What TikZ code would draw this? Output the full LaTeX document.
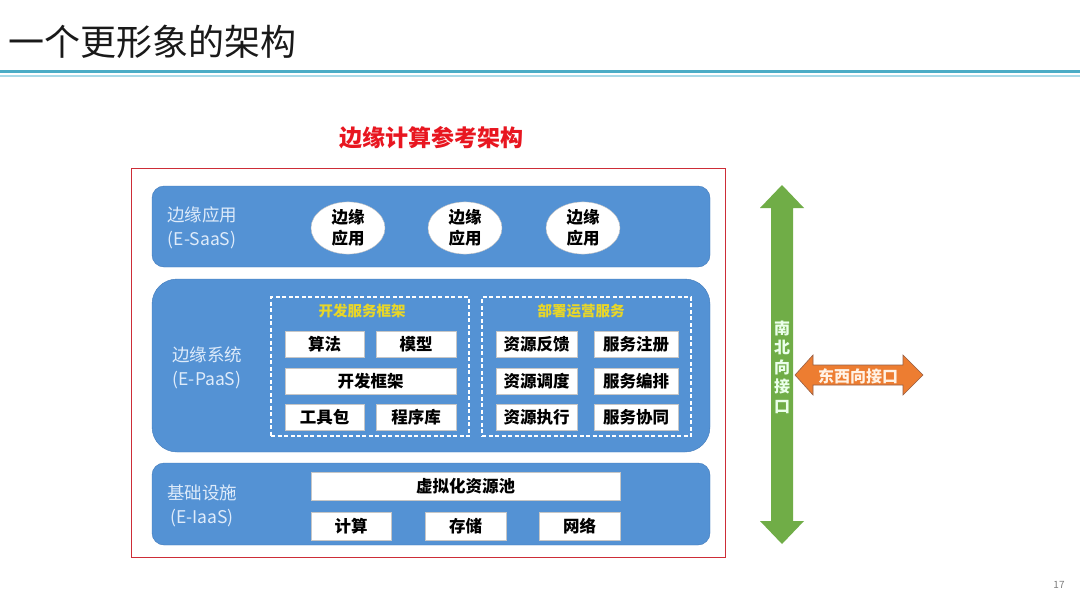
\documentclass[tikz,border=0pt]{standalone}
\usepackage{fontspec}
\setmainfont{Noto Sans CJK SC}
\usetikzlibrary{shapes.geometric}
\definecolor{layerblue}{RGB}{84,146,212}
\definecolor{layerline}{RGB}{66,122,186}
\definecolor{labelblue}{RGB}{222,235,250}
\definecolor{headteal}{RGB}{75,172,198}
\definecolor{palteal}{RGB}{170,218,232}
\definecolor{framered}{RGB}{205,45,55}
\definecolor{titlered}{RGB}{232,22,32}
\definecolor{sngreen}{RGB}{112,173,71}
\definecolor{ewline}{RGB}{150,95,70}
\definecolor{eworange}{RGB}{237,125,49}
\definecolor{groupyellow}{RGB}{232,214,40}

\tikzset{
    layer/.style={fill=layerblue, draw=layerline, rounded corners=12, minimum width=558},
    layerlabel/.style={text=labelblue, align=center, font=\fontsize{17.5}{24}\selectfont},
    app/.style={ellipse, fill=white, draw=gray!50, minimum width=74, minimum height=46,
      inner sep=0pt, align=center, font=\bfseries\fontsize{16.5}{21}\selectfont},
    cell/.style={fill=white, draw=gray!45, minimum height=26, inner sep=0pt,
      font=\bfseries\fontsize{16.5}{18}\selectfont},
    group/.style={draw=white, line width=1.3, dash pattern=on 4pt off 2.5pt,
      minimum height=139},
    grouptitle/.style={text=groupyellow, font=\bfseries\fontsize{14.5}{16}\selectfont}
}

\begin{document}
\begin{tikzpicture}[x=1pt, y=-1pt]
    \useasboundingbox[fill=white] (0,0) rectangle (1080,608);

    \node[anchor=west, text=black!90, font=\fontsize{36}{38}\selectfont] (head) at (5,42) {一个更形象的架构};
    \draw[headteal, line width=3.5] (0,71.5) -- (1080,71.5);
    \draw[palteal, line width=2.5] (0,76) -- (1080,76);

    \node[text=titlered, font=\bfseries\fontsize{23}{24}\selectfont] (ectitle) at (431,138) {边缘计算参考架构};
    \node[draw=framered, line width=1, minimum width=594, minimum height=389] (frame) at (428,362.5) {};

    \node[layer, minimum height=81] (saas) at (431,226.5) {};
    \node[layer, minimum height=173, rounded corners=25] (paas) at (431,365.5) {};
    \node[layer, minimum height=82] (iaas) at (431,504) {};

    \node[layerlabel] (saaslabel) at (202,228) {边缘应用\\(E-SaaS)};
    \node[layerlabel] (paaslabel) at (207,368) {边缘系统\\(E-PaaS)};
    \node[layerlabel] (iaaslabel) at (202,506) {基础设施\\(E-IaaS)};

    \node[app] (app1) at (348,228) {边缘\\应用};
    \node[app] (app2) at (465,228) {边缘\\应用};
    \node[app] (app3) at (583,228) {边缘\\应用};

    \node[group, minimum width=198] (devgroup) at (370,366.5) {};
    \node[group, minimum width=209] (opsgroup) at (586.5,366.5) {};
    \node[grouptitle] (devtitle) at (362,311) {开发服务框架};
    \node[grouptitle] (opstitle) at (581,311) {部署运营服务};

    \node[cell, minimum width=79] (algo) at (324.5,344) {算法};
    \node[cell, minimum width=80] (model) at (416,344) {模型};
    \node[cell, minimum width=171] (devframe) at (370.5,381) {开发框架};
    \node[cell, minimum width=79] (toolkit) at (324.5,417) {工具包};
    \node[cell, minimum width=80] (library) at (416,417) {程序库};

    \node[cell, minimum width=81] (resfeed) at (536.5,344) {资源反馈};
    \node[cell, minimum width=81] (ressched) at (536.5,381) {资源调度};
    \node[cell, minimum width=81] (resexec) at (536.5,417) {资源执行};
    \node[cell, minimum width=84] (srvreg) at (636,344) {服务注册};
    \node[cell, minimum width=84] (srvorch) at (636,381) {服务编排};
    \node[cell, minimum width=84] (srvcoop) at (636,417) {服务协同};

    \node[cell, minimum width=309, minimum height=28] (pool) at (465.5,486) {虚拟化资源池};
    \node[cell, minimum width=80, minimum height=28] (compute) at (351,526) {计算};
    \node[cell, minimum width=81, minimum height=28] (storage) at (465.5,526) {存储};
    \node[cell, minimum width=81, minimum height=28] (network) at (579.5,526) {网络};

    \fill[sngreen] (782,185) -- (804,208) -- (793,208) -- (793,521) -- (804,521) -- (782,544)
      -- (760,521) -- (771,521) -- (771,208) -- (760,208) -- cycle;
    \node[text=green!8, align=center, font=\bfseries\fontsize{16}{19.5}\selectfont] (snlabel) at (782,367)
      {南\\北\\向\\接\\口};

    \draw[ewline, fill=eworange, line width=0.6] (795,375) -- (813,355) -- (813,365) -- (903,365)
      -- (903,355) -- (923,375) -- (903,395) -- (903,385) -- (813,385) -- (813,395) -- cycle;
    \node[text=orange!10, font=\bfseries\fontsize{16}{18}\selectfont] (ewlabel) at (858,376) {东西向接口};

    \node[text=gray, font=\fontsize{10}{12}\selectfont] (pagenum) at (1059,585) {17};
\end{tikzpicture}
\end{document}
